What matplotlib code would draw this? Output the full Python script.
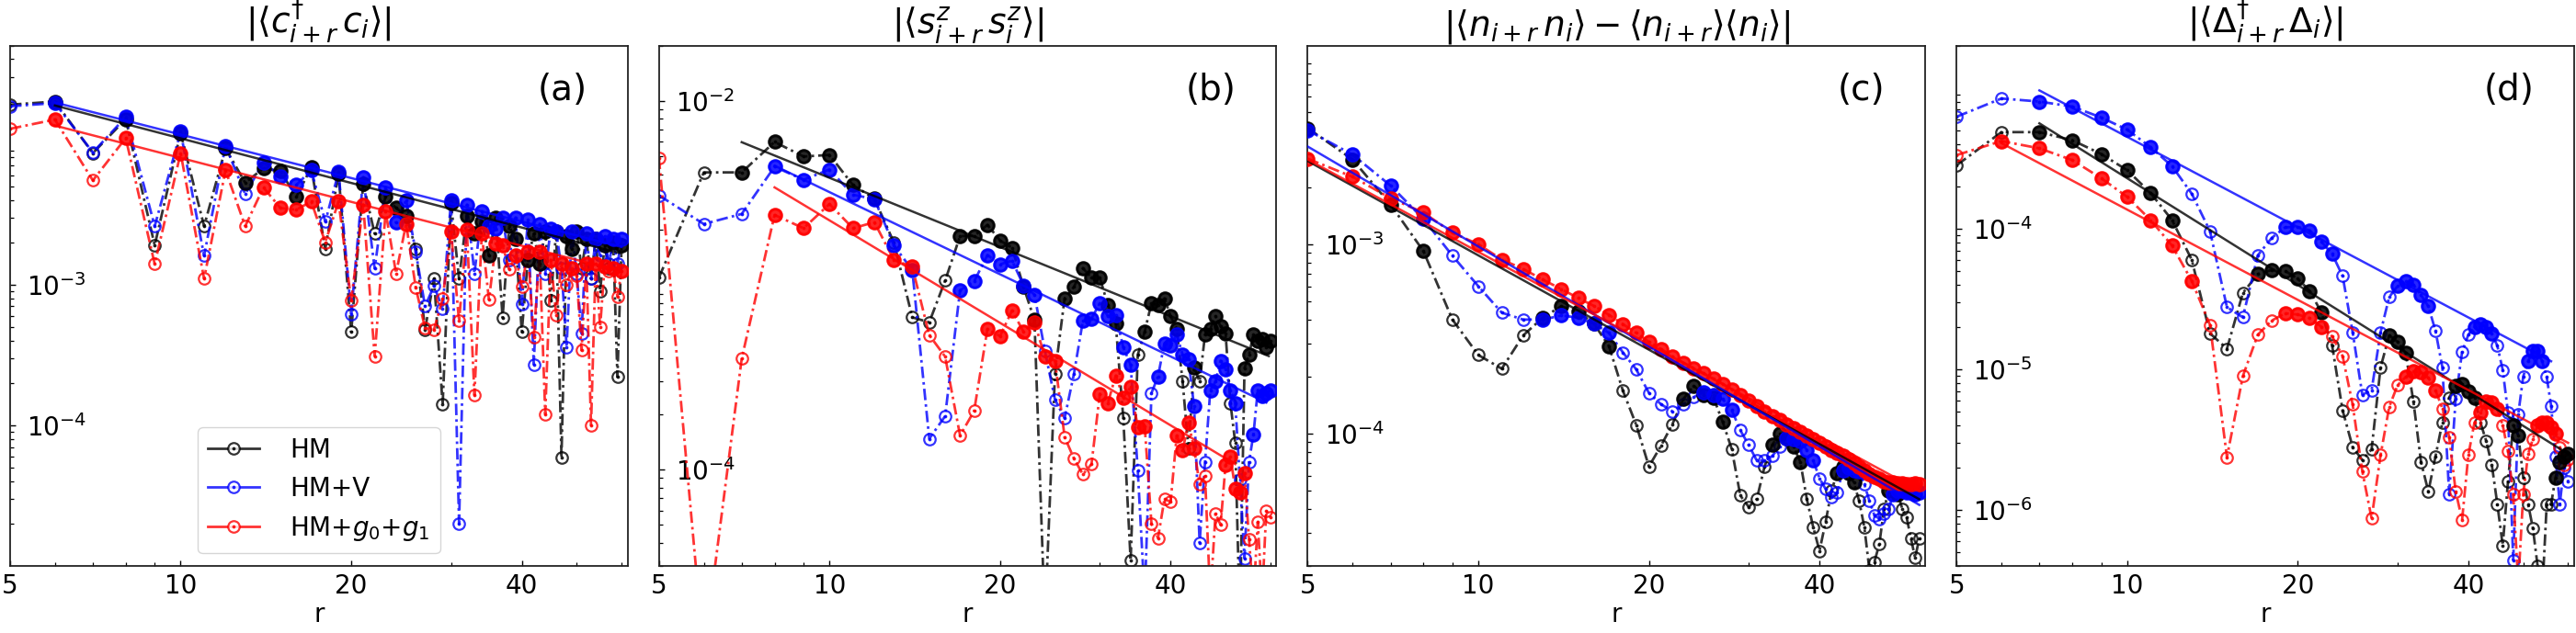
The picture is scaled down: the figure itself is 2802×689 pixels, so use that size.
import numpy as np
import matplotlib
matplotlib.use('Agg')
import matplotlib.pyplot as plt
from matplotlib.lines import Line2D
from matplotlib.legend_handler import HandlerTuple
from matplotlib.ticker import NullFormatter

r = np.arange(5, 61)

# ---------------- (a) |<c+_{i+r} c_i>| ----------------
a_hm = [1.9e-2, 2.0e-2, 8.6e-3, 1.5e-2, 1.9e-3, 1.2e-2, 2.6e-3, 9.3e-3, 5.3e-3, 6.7e-3,
        6.4e-3, 4.2e-3, 6.8e-3, 1.8e-3, 6.1e-3, 4.6e-4, 5.2e-3, 2.3e-3, 4.2e-3, 3.5e-3,
        3.1e-3, 1.8e-3, 4.8e-4, 1.1e-3, 1.4e-4, 3.8e-3, 1.1e-3, 3.1e-3, 2.3e-3, 2.8e-3,
        1.6e-3, 3.0e-3, 5.8e-4, 2.6e-3, 2.1e-3, 4.6e-4, 1.5e-3, 2.3e-3, 1.4e-3, 2.4e-3,
        7.7e-4, 2.4e-3, 5.9e-5, 2.2e-3, 1.8e-3, 2.4e-3, 1.3e-3, 2.1e-3, 1.1e-3, 2.1e-3,
        9.0e-4, 1.9e-3, 1.3e-3, 2.0e-3, 2.2e-4, 1.9e-3]
a_hmv = [1.85e-2, 1.95e-2, 8.7e-3, 1.55e-2, 2.6e-3, 1.22e-2, 1.6e-3, 9.7e-3, 4.4e-3, 7.4e-3,
         5.9e-3, 5.1e-3, 6.5e-3, 2.8e-3, 6.3e-3, 6.2e-4, 5.8e-3, 1.3e-3, 4.9e-3, 2.75e-3,
         4.0e-3, 1.7e-3, 7.0e-4, 9.8e-4, 6.7e-4, 4.0e-3, 2.0e-5, 3.7e-3, 1.2e-3, 3.3e-3,
         2.6e-3, 2.5e-3, 3.0e-3, 1.5e-3, 3.0e-3, 7.3e-4, 2.9e-3, 2.7e-4, 2.7e-3, 1.2e-3,
         2.5e-3, 2.4e-3, 1.3e-3, 3.6e-4, 2.4e-3, 1.2e-3, 4.5e-4, 2.3e-3, 1.1e-3, 2.1e-3,
         1.6e-3, 2.2e-3, 1.4e-3, 2.1e-3, 1.4e-3, 2.1e-3]
a_g = [1.28e-2, 1.49e-2, 5.5e-3, 1.1e-2, 1.4e-3, 8.6e-3, 1.1e-3, 6.5e-3, 2.6e-3, 4.9e-3,
       3.5e-3, 3.4e-3, 3.9e-3, 2.0e-3, 3.9e-3, 7.7e-4, 3.7e-3, 3.1e-4, 3.3e-3, 1.2e-3,
       2.7e-3, 9.5e-4, 4.9e-4, 4.8e-4, 7.9e-4, 2.4e-3, 5.5e-4, 2.45e-3, 1.64e-4, 2.3e-3,
       7.8e-4, 1.95e-3, 1.9e-3, 1.28e-3, 1.6e-3, 9.7e-4, 1.7e-3, 4.2e-4, 1.7e-3, 1.2e-4,
       1.5e-3, 6.1e-4, 1.4e-3, 1.0e-3, 1.3e-3, 1.15e-3, 3.4e-4, 1.4e-3, 1.0e-4, 1.4e-3,
       5.0e-4, 1.35e-3, 1.25e-3, 1.3e-3, 8.2e-4, 1.25e-3]
fa_hm = [6, 8, 10, 12, 13, 14, 15, 16, 17, 19, 21, 23, 24, 25, 30, 32, 33, 34, 35, 36,
         38, 39, 41, 42, 43, 44, 46, 48, 49, 50, 52, 54, 56, 58, 60]
fa_hmv = [6, 8, 10, 12, 14, 15, 16, 17, 19, 21, 23, 24, 25, 30, 32, 34, 35, 36, 37, 39,
          41, 43, 45, 46, 49, 52, 54, 56, 58, 60]
fa_g = [6, 8, 10, 12, 14, 15, 16, 17, 19, 21, 23, 25, 30, 32, 34, 36, 37, 39, 41, 43,
        45, 47, 49, 52, 54, 56, 58, 60]
# power-law fits: (r_start, r_end), (y_start, y_end)
fit_a_hm = [(6, 60), (1.875e-2, 1.66e-3)]
fit_a_hmv = [(6, 60), (1.97e-2, 1.85e-3)]
fit_a_g = [(6, 60), (1.35e-2, 1.24e-3)]

# ---------------- (b) |<s^z_{i+r} s^z_i>| ----------------
b_hm = [1.1e-3, 4.1e-3, 4.1e-3, 6.0e-3, 5.0e-3, 5.1e-3, 3.5e-3, 2.95e-3, 1.7e-3, 6.7e-4,
        6.3e-4, 1.06e-3, 1.85e-3, 1.85e-3, 2.13e-3, 1.75e-3, 1.6e-3, 9.8e-4, 6.5e-4, 1.5e-5,
        3.3e-4, 8.5e-4, 9.8e-4, 1.24e-3, 1.1e-3, 1.1e-3, 7.8e-4, 6.2e-4, 1.9e-4, 3.2e-5,
        4.2e-4, 5.6e-4, 8.0e-4, 7.8e-4, 8.5e-4, 6.8e-4, 5.8e-4, 3.0e-4, 1.3e-4, 3.6e-4,
        3.0e-4, 5.4e-4, 5.8e-4, 6.8e-4, 6.0e-4, 5.5e-4, 2.3e-4, 1.4e-4, 1.5e-5, 3.55e-4,
        4.2e-4, 5.4e-4, 5.0e-4, 5.1e-4, 4.6e-4, 5.0e-4]
b_hmv = [3.08e-3, 2.15e-3, 2.44e-3, 4.4e-3, 3.74e-3, 4.25e-3, 3.1e-3, 2.94e-3, 1.64e-3, 1.21e-3,
         1.47e-4, 1.95e-4, 9.4e-4, 1.05e-3, 1.46e-3, 1.3e-3, 1.36e-3, 1.0e-3, 8.9e-4, 4.4e-4,
         2.4e-4, 1.9e-4, 3.3e-4, 6.4e-4, 6.6e-4, 8.0e-4, 6.8e-4, 6.9e-4, 4.6e-4, 3.7e-4,
         9.9e-5, 2.0e-5, 2.6e-4, 3.2e-4, 4.85e-4, 4.7e-4, 5.4e-4, 4.2e-4, 3.95e-4, 2.2e-4,
         4.0e-5, 1.1e-4, 2.7e-4, 3.0e-4, 3.9e-4, 3.5e-4, 2.7e-4, 2.3e-4, 8.8e-5, 3.3e-5,
         1.1e-4, 1.55e-4, 2.7e-4, 2.5e-4, 2.6e-4, 2.7e-4]
b_g = [4.93e-3, 1.0e-5, 4.0e-4, 2.41e-3, 2.04e-3, 2.76e-3, 2.04e-3, 2.2e-3, 1.37e-3, 1.26e-3,
       5.37e-4, 4.1e-4, 1.53e-4, 2.08e-4, 5.8e-4, 5.3e-4, 7.3e-4, 5.6e-4, 6.3e-4, 4.1e-4,
       3.9e-4, 1.5e-4, 1.15e-4, 9.4e-5, 1.07e-4, 2.58e-4, 2.3e-4, 3.24e-4, 2.46e-4, 2.8e-4,
       1.7e-4, 1.72e-4, 5.1e-5, 4.25e-5, 6.9e-5, 6.7e-5, 1.53e-4, 1.27e-4, 1.8e-4, 1.3e-4,
       8.3e-5, 9.2e-5, 2.0e-5, 5.8e-5, 5.0e-5, 1.06e-4, 1.17e-4, 7.9e-5, 7.5e-5, 9.6e-5,
       4.2e-5, 2.0e-5, 5.2e-5, 2.0e-5, 6.0e-5, 5.5e-5]
fb_hm = [7, 8, 9, 10, 11, 12, 17, 18, 19, 20, 21, 22, 23, 26, 27, 28, 29, 30, 31, 32,
         36, 37, 38, 39, 40, 41, 44, 46, 47, 48, 49, 50, 54, 55, 56, 57, 58, 59, 60]
fb_hmv = [8, 9, 10, 11, 12, 13, 14, 17, 18, 19, 20, 21, 22, 23, 28, 29, 30, 31, 32, 33,
          34, 38, 39, 40, 41, 42, 43, 44, 47, 48, 49, 50, 51, 52, 56, 57, 58, 59, 60]
fb_g = [8, 9, 10, 11, 12, 13, 14, 19, 20, 21, 22, 23, 24, 25, 30, 31, 32, 33, 34, 35,
        36, 41, 42, 43, 44, 50, 51, 52, 53, 54]
fit_b_hm = [(7, 59.6), (5.98e-3, 4.13e-4)]
fit_b_hmv = [(8, 59), (4.46e-3, 2.31e-4)]
fit_b_g = [(8, 52), (3.4e-3, 1.07e-4)]

# ---------------- (c) |<n n> - <n><n>| ----------------
c_hm = [4.1e-3, 2.8e-3, 1.62e-3, 9.2e-4, 4.0e-4, 2.6e-4, 2.2e-4, 3.3e-4, 4.1e-4, 4.7e-4,
        4.4e-4, 3.8e-4, 2.9e-4, 1.68e-4, 1.11e-4, 6.7e-5, 8.6e-5, 1.12e-4, 1.52e-4, 1.79e-4,
        1.6e-4, 1.55e-4, 1.15e-4, 8.3e-5, 4.7e-5, 4.1e-5, 4.5e-5, 6.7e-5, 8.7e-5, 1.0e-4,
        9.5e-5, 8.5e-5, 7.1e-5, 4.5e-5, 3.2e-5, 2.4e-5, 3.4e-5, 5.0e-5, 6.2e-5, 6.7e-5,
        6.2e-5, 5.5e-5, 4.4e-5, 3.2e-5, 1.9e-5, 2.1e-5, 2.6e-5, 4.0e-5, 5.0e-5, 5.2e-5,
        4.8e-5, 4.0e-5, 3.6e-5, 2.8e-5, 2.2e-5, 2.8e-5]
c_hmv = [4.0e-3, 2.97e-3, 2.04e-3, 1.36e-3, 8.7e-4, 6.0e-4, 4.35e-4, 4.0e-4, 4.0e-4, 4.2e-4,
         4.1e-4, 3.8e-4, 3.4e-4, 2.68e-4, 2.18e-4, 1.64e-4, 1.43e-4, 1.31e-4, 1.43e-4, 1.56e-4,
         1.66e-4, 1.6e-4, 1.52e-4, 1.33e-4, 1.04e-4, 8.7e-5, 7.2e-5, 7.2e-5, 7.6e-5, 8.5e-5,
         9.5e-5, 9.3e-5, 9.1e-5, 8.2e-5, 7.2e-5, 5.8e-5, 5.1e-5, 4.6e-5, 4.9e-5, 6.4e-5,
         6.6e-5, 6.4e-5, 6.3e-5, 5.4e-5, 4.4e-5, 3.7e-5, 3.55e-5, 3.8e-5, 4.0e-5, 4.8e-5,
         5.0e-5, 5.0e-5, 4.9e-5, 4.9e-5, 4.8e-5, 4.9e-5]
c_g = [2.83e-3, 2.27e-3, 1.75e-3, 1.47e-3, 1.15e-3, 1.0e-3, 8.3e-4, 7.4e-4, 6.5e-4, 5.8e-4,
       5.2e-4, 4.72e-4, 4.24e-4, 3.78e-4, 3.4e-4, 3.05e-4, 2.8e-4, 2.56e-4, 2.37e-4, 2.22e-4,
       2.08e-4, 1.95e-4, 1.83e-4, 1.71e-4, 1.59e-4, 1.49e-4, 1.4e-4, 1.31e-4, 1.24e-4, 1.18e-4,
       1.12e-4, 1.07e-4, 1.02e-4, 9.8e-5, 9.3e-5, 8.9e-5, 8.5e-5, 8.2e-5, 7.9e-5, 7.6e-5,
       7.3e-5, 7.0e-5, 6.7e-5, 6.4e-5, 6.1e-5, 5.9e-5, 5.75e-5, 5.6e-5, 5.5e-5, 5.5e-5,
       5.45e-5, 5.45e-5, 5.4e-5, 5.4e-5, 5.45e-5, 5.4e-5]
fc_hm = [5, 6, 7, 8, 13, 14, 15, 16, 17, 23, 24, 25, 26, 27, 33, 34, 35, 36, 37, 43,
         44, 45, 46, 53, 54, 55]
fc_hmv = [5, 6, 7, 8, 13, 14, 15, 16, 17, 25, 26, 27, 28, 35, 36, 37, 38, 39, 44, 45,
          46, 47, 54, 55, 56, 57, 58, 59, 60]
fc_g = list(range(5, 61))
fit_c_hm = [(5, 60), (2.75e-3, 4.5e-5)]
fit_c_hmv = [(5, 60), (3.28e-3, 4.2e-5)]
fit_c_g = [(5, 60), (2.8e-3, 5.0e-5)]

# ---------------- (d) |<D+_{i+r} D_i>| ----------------
d_hm = [2.82e-4, 4.85e-4, 4.85e-4, 4.25e-4, 3.39e-4, 2.6e-4, 1.79e-4, 1.15e-4, 6.0e-5, 1.8e-5,
        1.4e-5, 3.48e-5, 4.75e-5, 5.08e-5, 5.0e-5, 4.4e-5, 3.6e-5, 2.55e-5, 1.47e-5, 5.1e-6,
        2.8e-6, 2.26e-6, 2.7e-6, 1.03e-5, 1.74e-5, 1.57e-5, 1.31e-5, 5.9e-6, 2.2e-6, 1.35e-6,
        2.4e-6, 4.2e-6, 6.3e-6, 7.6e-6, 7.8e-6, 7.0e-6, 6.3e-6, 4.2e-6, 3.1e-6, 2.1e-6,
        1.1e-6, 5.6e-7, 1.6e-6, 4.0e-6, 3.4e-6, 1.7e-6, 1.1e-6, 7.4e-7, 4.0e-7, 2.5e-7,
        1.1e-6, 1.1e-6, 1.7e-6, 2.2e-6, 2.4e-6, 2.5e-6]
d_hmv = [6.24e-4, 8.41e-4, 8.0e-4, 7.37e-4, 6.16e-4, 5.05e-4, 3.79e-4, 2.78e-4, 1.77e-4, 9.6e-5,
         2.76e-5, 2.34e-5, 6.45e-5, 8.6e-5, 1.02e-4, 1.03e-4, 9.7e-5, 8.1e-5, 6.6e-5, 4.6e-5,
         1.83e-5, 6.6e-6, 7.1e-6, 1.83e-5, 3.26e-5, 3.9e-5, 4.2e-5, 4.0e-5, 3.37e-5, 2.8e-5,
         1.88e-5, 1.03e-5, 1.3e-6, 6.2e-6, 1.33e-5, 1.76e-5, 2.0e-5, 2.1e-5, 2.0e-5, 1.8e-5,
         1.47e-5, 9.9e-6, 4.9e-6, 4.4e-7, 4.8e-6, 8.9e-6, 1.14e-5, 1.35e-5, 1.34e-5, 1.14e-5,
         8.8e-6, 5.5e-6, 2.4e-6, 1.1e-6, 2.0e-6, 1.6e-6]
d_g = [3.33e-4, 4.19e-4, 3.72e-4, 3.07e-4, 2.28e-4, 1.68e-4, 1.15e-4, 7.57e-5, 4.25e-5, 2.07e-5,
       2.37e-6, 8.93e-6, 1.76e-5, 2.22e-5, 2.5e-5, 2.45e-5, 2.31e-5, 2.01e-5, 1.71e-5, 1.24e-5,
       5.6e-6, 1.88e-6, 8.7e-7, 2.45e-6, 5.4e-6, 7.7e-6, 8.8e-6, 9.7e-6, 9.5e-6, 8.7e-6,
       7.1e-6, 5.25e-6, 3.3e-6, 1.35e-6, 8.5e-7, 2.45e-6, 4.17e-6, 4.9e-6, 5.9e-6, 5.8e-6,
       5.2e-6, 4.0e-6, 2.6e-6, 1.3e-6, 3.0e-7, 1.3e-6, 2.5e-6, 3.2e-6, 4.0e-6, 4.2e-6,
       4.2e-6, 3.9e-6, 3.5e-6, 2.8e-6, 2.1e-6, 2.3e-6]
fd_hm = [7, 8, 9, 10, 11, 12, 17, 18, 19, 20, 21, 22, 29, 30, 31, 38, 39, 40, 41, 48,
         49, 57, 58, 59, 60]
fd_hmv = [7, 8, 9, 10, 11, 12, 19, 20, 21, 22, 23, 30, 31, 32, 33, 34, 41, 42, 43, 44,
          51, 52, 53, 54]
fd_g = [6, 7, 8, 9, 10, 11, 12, 13, 19, 20, 21, 22, 31, 32, 33, 34, 35, 42, 43, 44,
        45, 53, 54, 55, 56, 57]
fit_d_hm = [(7, 60), (5.6e-4, 2.5e-6)]
fit_d_hmv = [(7, 56), (9.6e-4, 1.14e-5)]
fit_d_g = [(6, 60), (4.05e-4, 3.0e-6)]

titles = [r'$|\langle c^{\dagger}_{i+r}\, c_i \rangle|$',
          r'$|\langle s^{z}_{i+r}\, s^{z}_{i} \rangle|$',
          r'$|\langle n_{i+r}\, n_i \rangle - \langle n_{i+r} \rangle \langle n_i \rangle|$',
          r'$|\langle \Delta^{\dagger}_{i+r}\, \Delta_i \rangle|$']
tags = ['(a)', '(b)', '(c)', '(d)']
ylims = [(1e-5, 5e-2), (3e-5, 2e-2), (2e-5, 1.12e-2), (4e-7, 2e-3)]
yticks = [[1e-4, 1e-3], [1e-4, 1e-2], [1e-4, 1e-3], [1e-6, 1e-5, 1e-4]]
labels = ['HM', 'HM+V', r'HM+$g_0$+$g_1$']
colors = ['k', 'b', 'r']

panels = [
    ([a_hm, a_hmv, a_g], [fa_hm, fa_hmv, fa_g], [fit_a_hm, fit_a_hmv, fit_a_g]),
    ([b_hm, b_hmv, b_g], [fb_hm, fb_hmv, fb_g], [fit_b_hm, fit_b_hmv, fit_b_g]),
    ([c_hm, c_hmv, c_g], [fc_hm, fc_hmv, fc_g], [fit_c_hm, fit_c_hmv, fit_c_g]),
    ([d_hm, d_hmv, d_g], [fd_hm, fd_hmv, fd_g], [fit_d_hm, fit_d_hmv, fit_d_g]),
]

DASHDOT = (0, (4.5, 1.6, 1.0, 1.6))

fig, axes = plt.subplots(1, 4, figsize=(28.02, 6.89), dpi=100)
fig.subplots_adjust(left=0.0039, right=0.9993, top=0.928, bottom=0.106, wspace=0.0506)

for k, ax in enumerate(axes):
    series, filled, fits = panels[k]
    for y, f, fit, c in zip(series, filled, fits, colors):
        y = np.array(y)
        ax.plot(r, y, ls=DASHDOT, lw=2, color=c, alpha=0.8, marker='o', ms=9,
                mfc='none', mew=1.6, zorder=2)
        ax.plot(r, y, ls='none', marker='.', ms=3.5, color=c, alpha=0.8, zorder=2)
        m = np.isin(r, f)
        ax.plot(r[m], y[m], ls='none', marker='o', ms=11, color=c, alpha=0.85, zorder=3)
        ax.plot(fit[0], fit[1], ls='-', lw=1.8, color=c, alpha=0.8, zorder=5)

    ax.set_xscale('log')
    ax.set_yscale('log')
    ax.set_xlim(5, 61.5)
    ax.set_ylim(*ylims[k])
    ax.set_xticks([5, 10, 20, 40])
    ax.set_xticklabels(['5', '10', '20', '40'])
    ax.xaxis.set_minor_formatter(NullFormatter())
    ax.set_yticks(yticks[k])
    ax.yaxis.set_minor_formatter(NullFormatter())
    ax.tick_params(which='both', direction='in', top=False, right=False, labelsize=20)
    ax.tick_params(which='major', length=4.5, width=1)
    ax.tick_params(which='minor', length=2.8, width=0.9)
    ax.tick_params(axis='x', pad=6)
    ax.tick_params(axis='y', pad=-13)
    for t in ax.get_yticklabels():
        t.set_horizontalalignment('left')
    for s in ax.spines.values():
        s.set_linewidth(1.3)
        s.set_color('#222222')
    ax.set_xlabel('r', fontsize=20, labelpad=2)
    ax.set_title(titles[k], fontsize=27, pad=4)
    ax.text(0.935, 0.915, tags[k], transform=ax.transAxes, fontsize=28,
            ha='right', va='center')

handles = []
for c in colors:
    ln = Line2D([0], [0], color=c, ls='-', lw=2, alpha=0.8, marker='o', ms=9,
                mfc='white', mew=1.6)
    dot = Line2D([0], [0], color=c, ls='none', marker='.', ms=3.5, alpha=0.8)
    handles.append((ln, dot))
axes[0].legend(handles, labels, loc='lower center', fontsize=20, handletextpad=1.2,
               handler_map={tuple: HandlerTuple(ndivide=1)})

fig.savefig('out.png', dpi=100)
